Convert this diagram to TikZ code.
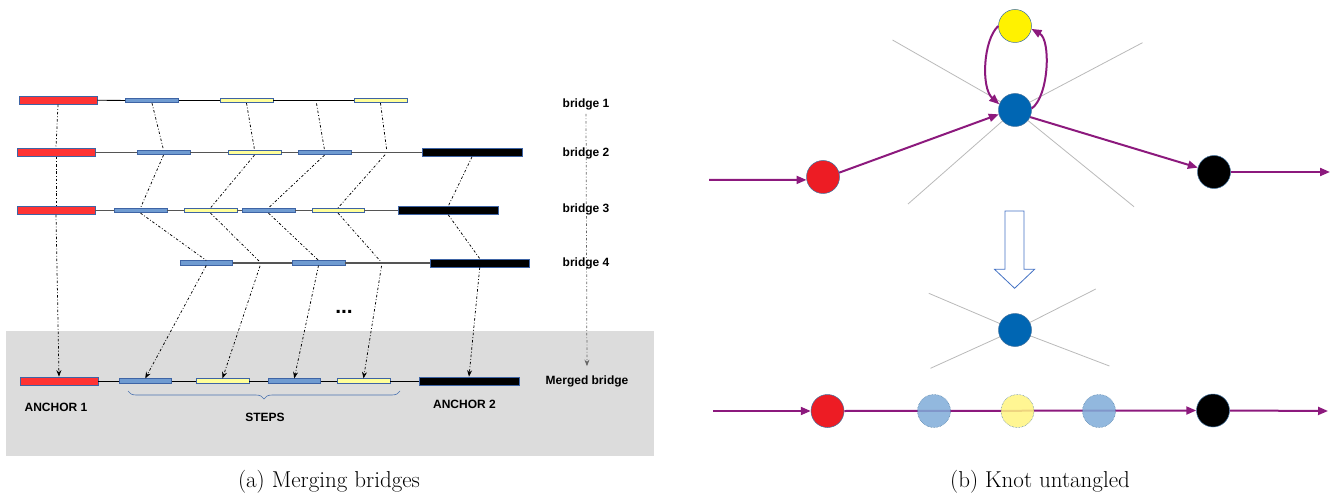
\documentclass[tikz,border=0pt]{standalone}
\usepackage{fontspec}
\newfontfamily\labfont{Liberation Sans}
\usetikzlibrary{arrows.meta,decorations.pathreplacing}
\definecolor{bggray}{RGB}{220,220,220}
\definecolor{redbar}{RGB}{255,51,51}
\definecolor{bluebar}{RGB}{111,155,209}
\definecolor{yelbar}{RGB}{255,255,153}
\definecolor{barborder}{RGB}{62,100,165}
\definecolor{rowgray}{RGB}{85,85,85}
\definecolor{bracecol}{RGB}{74,114,176}
\definecolor{knot}{RGB}{140,25,125}
\definecolor{cred}{RGB}{237,28,36}
\definecolor{cblue}{RGB}{0,102,179}
\definecolor{cyel}{RGB}{255,242,0}
\definecolor{clblue}{RGB}{127,172,216}
\definecolor{clyel}{RGB}{255,245,128}
\definecolor{cborder}{RGB}{65,113,156}
\definecolor{raygray}{RGB}{185,185,185}
\definecolor{hollow}{RGB}{68,114,196}
\newcommand\brbar[5]{\node[#1,minimum width={(#3)-(#2)}] (#5) at ({((#2)+(#3))/2},#4) {};}
\begin{document}
\begin{tikzpicture}[x=1pt,y=-1pt,
  barbase/.style={rectangle,draw=barborder,line width=0.7pt,inner sep=0pt},
  redb/.style={barbase,fill=redbar,minimum height=8pt},
  blkb/.style={barbase,fill=black,minimum height=8pt},
  blub/.style={barbase,fill=bluebar,minimum height=4.5pt},
  yelb/.style={barbase,fill=yelbar,minimum height=4.5pt},
  row1line/.style={black,line width=0.9pt},
  rowline/.style={rowgray,line width=1.1pt},
  conn/.style={black,line width=0.75pt,dash pattern=on 2.5pt off 2pt on 0.8pt off 2pt},
  connarr/.style={conn,-{Stealth[length=6.5pt,width=5pt]}},
  lab/.style={font=\labfont\bfseries\fontsize{12}{14}\selectfont,inner sep=1pt},
  knotline/.style={knot,line width=2pt},
  knotarr/.style={knotline,-{Triangle[length=10pt,width=8pt]}},
  ball/.style={circle,draw=cborder,line width=0.5pt,minimum size=33pt,inner sep=0pt},
  ray/.style={raygray,line width=0.8pt},
  capt/.style={font=\fontsize{23}{26}\selectfont}
]
\useasboundingbox (0,0) rectangle (1341,497);
\fill[bggray] (6,331) rectangle (654,456);
% ---------- row 1
\brbar{redb}{19}{97}{100.2}{r1red}
\brbar{blub}{125.5}{178.5}{100.5}{r1b1}
\brbar{yelb}{220}{273}{100.5}{r1y1}
\brbar{yelb}{354}{407}{100.5}{r1y2}
\draw[row1line] (r1red.east) -- (r1b1.west);
\draw[row1line] (r1b1.east) -- (r1y1.west);
\draw[row1line] (r1y1.east) -- (r1y2.west);
\coordinate (r1p) at (316,100.5);
% ---------- row 2
\brbar{redb}{17}{95}{152.5}{r2red}
\brbar{blub}{137}{190}{152.5}{r2b1}
\brbar{yelb}{228}{281}{152.5}{r2y1}
\brbar{blub}{298}{351}{152.5}{r2b2}
\brbar{blkb}{422}{522}{152.5}{r2k}
\draw[rowline] (r2red.east) -- (r2b1.west);
\draw[rowline] (r2b1.east) -- (r2y1.west);
\draw[rowline] (r2y1.east) -- (r2b2.west);
\draw[rowline] (r2b2.east) -- (r2k.west);
\coordinate (r2p) at (387,152.5);
% ---------- row 3
\brbar{redb}{17}{95}{210.5}{r3red}
\brbar{blub}{114}{167}{210.5}{r3b1}
\brbar{yelb}{184}{237}{210.5}{r3y1}
\brbar{blub}{242}{295}{210.5}{r3b2}
\brbar{yelb}{312}{364}{210.5}{r3y2}
\brbar{blkb}{398.5}{498}{210.5}{r3k}
\draw[rowline] (r3red.east) -- (r3b1.west);
\draw[rowline] (r3b1.east) -- (r3y1.west);
\draw[rowline] (r3y1.east) -- (r3b2.west);
\draw[rowline] (r3b2.east) -- (r3y2.west);
\draw[rowline] (r3y2.east) -- (r3k.west);
% ---------- row 4
\brbar{blub}{180}{232.5}{263}{r4b1}
\brbar{blub}{292}{345}{263}{r4b2}
\brbar{blkb}{430}{529.5}{263}{r4k}
\draw[rowline] (r4b1.east) -- (r4b2.west);
\draw[rowline] (r4b2.east) -- (r4k.west);
\coordinate (r4p1) at (261,263);
\coordinate (r4p2) at (382,263);
% ---------- merged row
\brbar{redb}{20}{98}{381}{mred}
\brbar{blub}{119}{171.5}{381}{mb1}
\brbar{yelb}{196}{249}{381}{my1}
\brbar{blub}{268}{320.5}{381}{mb2}
\brbar{yelb}{337}{390}{381}{my2}
\brbar{blkb}{419}{519}{381}{mk}
\draw[row1line] (mred.east) -- (mb1.west);
\draw[row1line] (mb1.east) -- (my1.west);
\draw[row1line] (my1.east) -- (mb2.west);
\draw[row1line] (mb2.east) -- (my2.west);
\draw[row1line] (my2.east) -- (mk.west);
% ---------- connectors
\draw[conn] (r1red.south) -- (r2red.north);
\draw[conn] (r2red.south) -- (r3red.north);
\draw[connarr] (r3red.south) -- (mred.north);
% row1 -> row2
\draw[conn] (r1b1.south) -- (r2b1.north);
\draw[conn] (r1y1.south) -- (r2y1.north);
\draw[conn,shorten <=3pt] (r1p) -- (r2b2.north);
\draw[conn,shorten >=3pt] (r1y2.south) -- (r2p);
% row2 -> row3
\draw[conn] (r2b1.south) -- (r3b1.north);
\draw[conn] (r2y1.south) -- (r3y1.north);
\draw[conn] (r2b2.south) -- (r3b2.north);
\draw[conn,shorten <=3pt] (r2p) -- (r3y2.north);
\draw[conn] (r2k.south) -- (r3k.north);
% row3 -> row4
\draw[conn] (r3b1.south) -- (r4b1.north);
\draw[conn,shorten >=3pt] (r3y1.south) -- (r4p1);
\draw[conn] (r3b2.south) -- (r4b2.north);
\draw[conn,shorten >=3pt] (r3y2.south) -- (r4p2);
\draw[conn] (r3k.south) -- (r4k.north);
% row4 -> merged
\draw[connarr] (r4b1.south) -- (mb1.north);
\draw[connarr,shorten <=3pt] (r4p1) -- (my1.north);
\draw[connarr] (r4b2.south) -- (mb2.north);
\draw[connarr,shorten <=3pt] (r4p2) -- (my2.north);
\draw[connarr] (r4k.south) -- (mk.north);
% ---------- labels
\node[lab] (lb1) at (586,104) {bridge 1};
\node[lab] (lbm) at (587,381) {Merged bridge};
\draw[conn,black!60,-{Stealth[length=6.5pt,width=5pt]},shorten <=3pt,shorten >=8pt] (lb1.south) -- (lbm.north);
\node[lab] (lb2) at (586,153) {bridge 2};
\node[lab] (lb3) at (586,209) {bridge 3};
\node[lab] (lb4) at (586,263) {bridge 4};
\node[lab,font=\labfont\bfseries\fontsize{21}{21}\selectfont] (dots) at (344,312) {...};
\node[lab] (anc1) at (56,407.5) {ANCHOR 1};
\node[lab] (anc2) at (464.5,404) {ANCHOR 2};
\node[lab] (stp) at (265,417.5) {STEPS};
\draw[bracecol,line width=0.6pt,decorate,decoration={brace,mirror,amplitude=8pt}] (128,391) -- (400,391);
% ========== panel (b) top
\coordinate (rNW) at (892.5,40);
\coordinate (rNE) at (1142.5,42.7);
\coordinate (rSW) at (908,204);
\coordinate (rSE) at (1134,206.7);
\coordinate (bcen) at (1015,110);
\draw[ray] (bcen) -- (rNW);
\draw[ray] (bcen) -- (rNE);
\draw[ray] (bcen) -- (rSW);
\draw[ray] (bcen) -- (rSE);
\node[ball,fill=cblue] (blue) at (bcen) {};
\node[ball,fill=cyel] (yel) at (1015,26) {};
\node[ball,fill=cred] (red) at (823,177) {};
\node[ball,fill=black] (blk) at (1214,172) {};
\coordinate (inL) at (709,180);
\coordinate (outR) at (1330,172);
\draw[knotarr] (inL) -- (red.190);
\draw[knotarr] (red.15) -- (blue.195);
\draw[knotarr] (blue.-25) -- (blk.165);
\draw[knotarr] (blk.east) -- (outR);
\draw[knotarr] (yel.west) .. controls (983,40) and (981,88) .. (blue.160);
\draw[knotarr] (blue.5) .. controls (1049,96) and (1051,40) .. (yel.-10);
% hollow arrow
\draw[hollow,line width=0.8pt,fill=white] (1005,211) -- (1024,211) -- (1024,269.3) -- (1034.6,269.3) -- (1014.6,288.3) -- (994.5,269.3) -- (1005,269.3) -- cycle;
% ========== panel (b) bottom
\coordinate (b2cen) at (1015,330);
\coordinate (sNW) at (928.8,293.3);
\coordinate (sNE) at (1095.8,289);
\coordinate (sSW) at (930.5,368.3);
\coordinate (sSE) at (1109.4,366);
\draw[ray] (b2cen) -- (sNW);
\draw[ray] (b2cen) -- (sNE);
\draw[ray] (b2cen) -- (sSW);
\draw[ray] (b2cen) -- (sSE);
\node[ball,fill=cblue] (blue2) at (b2cen) {};
\node[ball,fill=cred] (red2) at (827.5,411) {};
\node[ball,fill=black] (blk2) at (1213,410.5) {};
\coordinate (inL2) at (713,411);
\coordinate (outR2) at (1328,411);
\draw[knotarr] (inL2) -- (red2.west);
\draw[knotarr] (red2.east) -- (blk2.west);
\draw[knotarr] (blk2.east) -- (outR2);
\node[ball,fill=clblue,fill opacity=0.85,draw=cborder,densely dotted] (s1) at (934,411) {};
\node[ball,fill=clyel,fill opacity=0.85,draw=cborder,densely dotted] (s2) at (1017.5,411) {};
\node[ball,fill=clblue,fill opacity=0.85,draw=cborder,densely dotted] (s3) at (1099,411) {};
% ========== captions
\node[capt] (capa) at (329,482) {(a) Merging bridges};
\node[capt] (capb) at (1040,482) {(b) Knot untangled};
\end{tikzpicture}
\end{document}
